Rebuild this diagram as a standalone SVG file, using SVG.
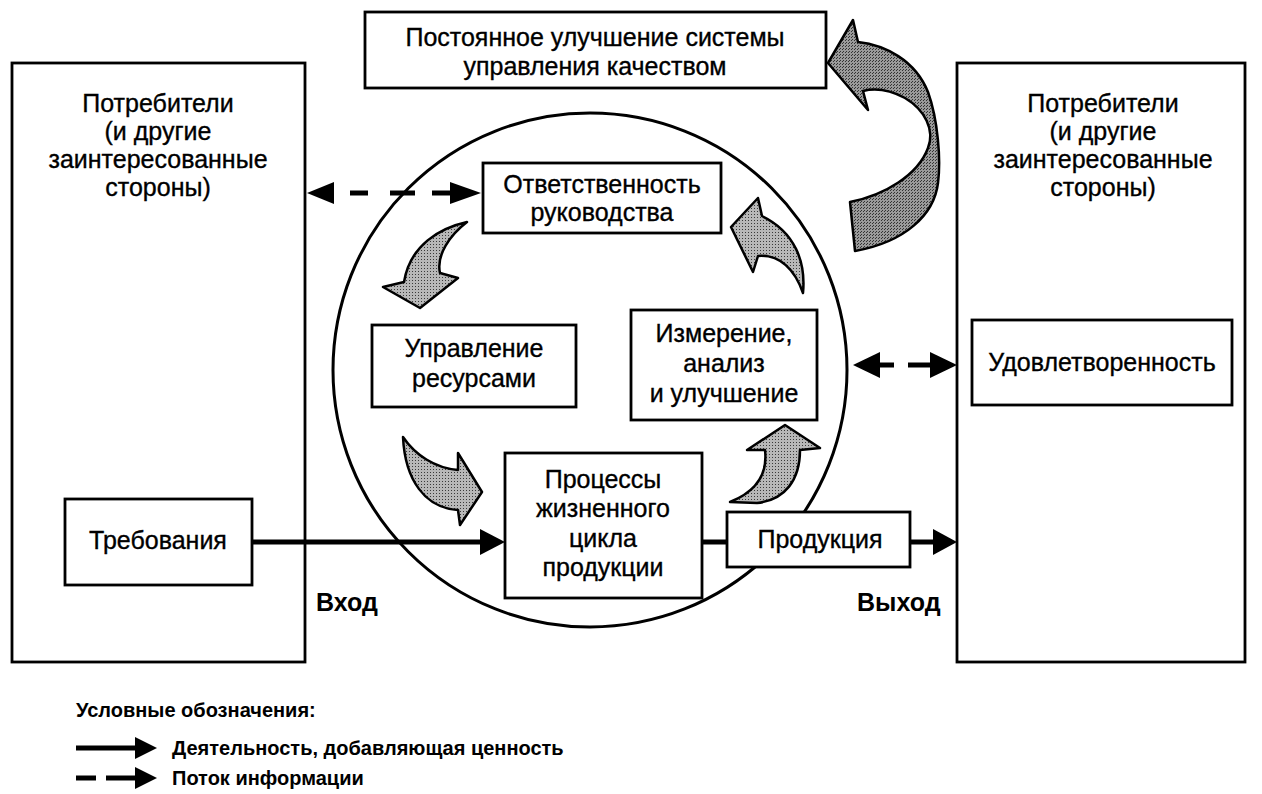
<svg xmlns="http://www.w3.org/2000/svg" width="1262" height="794" viewBox="0 0 1262 794">
<style>
.box{fill:#fff;stroke:#000;stroke-width:2.8}
.t{font-family:"Liberation Sans",Arial,sans-serif;font-size:25px;fill:#000;stroke:#000;stroke-width:0.35;text-anchor:middle}
.b{font-family:"Liberation Sans",Arial,sans-serif;font-weight:bold;fill:#000}
.flow{stroke:#000;stroke-width:5;fill:none}
.ca{fill:url(#st);stroke:#000;stroke-width:2.5;stroke-linejoin:round}
</style>
<defs>
<pattern id="st" width="3" height="3" patternUnits="userSpaceOnUse">
<rect width="3" height="3" fill="#b8b8b8"/><rect x="1" y="1" width="1" height="1" fill="#3a3a3a"/>
</pattern>
<pattern id="st2" width="3" height="3" patternUnits="userSpaceOnUse">
<rect width="3" height="3" fill="#9a9a9a"/><rect x="0" y="0" width="1" height="1" fill="#333"/><rect x="2" y="1" width="1" height="1" fill="#333"/>
</pattern>
</defs>
<rect width="1262" height="794" fill="#fff"/>

<g id="circle"><circle cx="590" cy="370" r="257" fill="none" stroke="#000" stroke-width="3"/></g>

<g id="consumers-left"><rect class="box" x="12" y="63" width="293" height="599"/>
<text class="t" x="158" y="112">Потребители</text>
<text class="t" x="158" y="140">(и другие</text>
<text class="t" x="158" y="168">заинтересованные</text>
<text class="t" x="158" y="196">стороны)</text></g>

<g id="consumers-right"><rect class="box" x="957" y="63" width="288" height="599"/>
<text class="t" x="1103" y="112">Потребители</text>
<text class="t" x="1103" y="140">(и другие</text>
<text class="t" x="1103" y="168">заинтересованные</text>
<text class="t" x="1103" y="196">стороны)</text></g>

<g id="improvement"><rect class="box" x="365" y="12" width="461" height="76"/>
<text class="t" x="595" y="46">Постоянное улучшение системы</text>
<text class="t" x="595" y="75">управления качеством</text></g>

<g id="responsibility"><rect class="box" x="483" y="163" width="238" height="70"/>
<text class="t" x="602" y="193">Ответственность</text>
<text class="t" x="602" y="221">руководства</text></g>

<g id="resources"><rect class="box" x="372" y="325" width="204" height="82"/>
<text class="t" x="474" y="357">Управление</text>
<text class="t" x="474" y="387">ресурсами</text></g>

<g id="measurement"><rect class="box" x="631" y="310" width="186" height="110"/>
<text class="t" x="724" y="342">Измерение,</text>
<text class="t" x="724" y="372">анализ</text>
<text class="t" x="724" y="402">и улучшение</text></g>

<g id="processes"><rect class="box" x="505" y="453" width="197" height="145"/>
<text class="t" x="603" y="488">Процессы</text>
<text class="t" x="603" y="517">жизненного</text>
<text class="t" x="603" y="547">цикла</text>
<text class="t" x="603" y="576">продукции</text></g>

<g id="product"><rect class="box" x="727" y="512" width="183" height="55"/>
<text class="t" x="820" y="548">Продукция</text></g>

<g id="requirements"><rect class="box" x="65" y="499" width="187" height="86"/>
<text class="t" x="158" y="549">Требования</text></g>

<g id="satisfaction"><rect class="box" x="972" y="320" width="260" height="85"/>
<text class="t" x="1102" y="371">Удовлетворенность</text></g>

<g id="connectors">
<line class="flow" x1="252" y1="542" x2="482" y2="542"/>
<path d="M505,542 L480,529 L480,555 Z"/>
<line class="flow" x1="702" y1="542" x2="727" y2="542"/>
<line class="flow" x1="910" y1="542" x2="935" y2="542"/>
<path d="M957,542 L933,529 L933,555 Z"/>
<path d="M307,193 L334,182 L334,204 Z"/>
<rect x="350" y="190.5" width="18" height="5"/>
<rect x="390" y="190.5" width="25" height="5"/>
<rect x="432" y="190.5" width="20" height="5"/>
<path d="M481,193 L450,182 L450,204 Z"/>
<path d="M853,365 L880,352 L880,378 Z"/>
<rect x="878" y="362.5" width="16" height="5"/>
<rect x="908" y="362.5" width="24" height="5"/>
<path d="M957,365 L930,352 L930,378 Z"/>
<path class="ca" d="M467,222 C440,228 410,245 404,282 L383,287 L420,308 L458,278 L440,273 C436,255 450,235 467,222 Z"/>
<path class="ca" d="M403,437 C415,455 435,468 458,470 L458,453 L482,492 L460,525 L458,510 C425,508 405,480 403,437 Z"/>
<path class="ca" d="M730,502 C755,492 768,475 765,450 L747,450 L785,425 L820,448 L800,450 C800,480 785,500 757,503 Z"/>
<path class="ca" d="M758,198 L731,227 L753,272 L758,256 C780,254 795,270 803,293 C806,262 795,232 762,216 Z"/>
<path class="ca" style="fill:url(#st2)" d="M828,63 L853,20 L858,42 C885,45 915,60 928,92 C938,120 941,160 938,183 C934,215 905,242 855,251 L850,202 C885,195 918,175 928,148 C935,130 925,110 905,98 C890,90 875,88 863,91 L868,110 Z"/>
</g>

<text class="b" x="316" y="611" font-size="25">Вход</text>
<text class="b" x="857" y="611" font-size="25">Выход</text>

<g id="legend">
<text class="b" x="76" y="717" font-size="20">Условные обозначения:</text>
<line x1="76" y1="748" x2="138" y2="748" stroke="#000" stroke-width="5"/>
<path d="M157,748 L135,737 L135,759 Z"/>
<text class="b" x="172" y="755" font-size="20">Деятельность, добавляющая ценность</text>
<line x1="76" y1="778" x2="96" y2="778" stroke="#000" stroke-width="5"/>
<line x1="106" y1="778" x2="138" y2="778" stroke="#000" stroke-width="5"/>
<path d="M157,778 L135,767 L135,789 Z"/>
<text class="b" x="172" y="785" font-size="20">Поток информации</text>
</g>
</svg>
